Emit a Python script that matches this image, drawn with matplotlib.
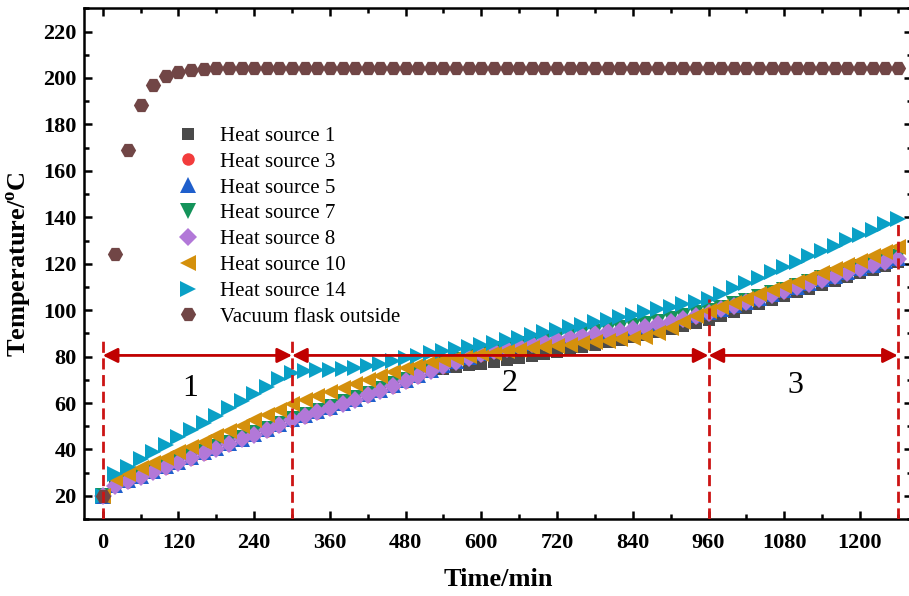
import numpy as np
import matplotlib
matplotlib.use("Agg")
from matplotlib import pyplot as plt
from matplotlib.ticker import MultipleLocator

plt.rcParams['font.family'] = 'Liberation Serif'
plt.rcParams['font.weight'] = 'bold'
plt.rcParams['mathtext.fontset'] = 'custom'
plt.rcParams['mathtext.rm'] = 'Liberation Serif'
plt.rcParams['mathtext.bf'] = 'Liberation Serif:bold'

# sampling every 20 min
time = np.arange(0, 1261, 20)

hs1 = [20.0, 24.0, 26.0, 28.0, 30.0, 32.0, 34.0, 36.0, 38.0, 40.0, 42.0, 44.0, 46.0, 48.0, 50.1, 52.3,
       54.0, 55.7, 57.5, 59.3, 61.2, 63.1, 65.0, 67.0, 69.1, 71.3, 73.3, 74.8, 75.6, 76.3, 77.0,
       77.7, 78.5, 79.3, 80.2, 81.1, 82.1, 83.1, 84.1, 85.1, 86.1, 87.2, 88.3, 89.4, 90.6, 91.9, 93.2, 94.5, 95.8,
       97.5, 99.2, 100.9, 102.6, 104.3, 106.0, 107.7, 109.3, 110.9, 112.5, 114.1, 115.8, 117.5, 119.2, 120.8]
hs3 = [20.0, 24.1, 26.1, 28.1, 30.1, 32.1, 34.1, 36.1, 38.1, 40.1, 42.1, 44.1, 46.1, 48.1, 50.2, 52.4,
       54.1, 55.8, 57.6, 59.4, 61.3, 63.2, 65.1, 67.1, 69.2, 71.4, 73.6, 75.6, 77.5, 79.3, 80.8,
       82.1, 83.2, 84.2, 85.2, 86.1, 87.0, 87.8, 88.6, 89.4, 90.2, 91.0, 91.8, 92.7, 93.7, 94.8, 96.0, 97.2, 98.5,
       100.1, 101.6, 103.2, 104.8, 106.4, 108.0, 109.6, 111.2, 112.8, 114.4, 116.0, 117.6, 119.1, 120.6, 122.0]
hs5 = [20.0, 24.7, 26.7, 28.7, 30.7, 32.7, 34.7, 36.7, 38.7, 40.7, 42.7, 44.7, 46.7, 48.7, 50.8, 53.0,
       54.7, 56.4, 58.2, 60.0, 61.9, 63.8, 65.7, 67.7, 69.8, 72.0, 74.2, 76.2, 78.1, 79.9, 81.4,
       82.7, 83.8, 84.8, 85.8, 86.7, 87.6, 88.4, 89.2, 90.0, 90.8, 91.6, 92.4, 93.3, 94.3, 95.4, 96.6, 97.8, 99.1,
       100.6, 102.1, 103.7, 105.3, 106.9, 108.5, 110.1, 111.7, 113.3, 114.9, 116.5, 118.1, 119.6, 121.1, 122.5]
hs7 = [20.0, 25.0, 27.0, 29.0, 31.0, 33.0, 35.0, 37.0, 39.0, 41.0, 43.0, 45.0, 47.0, 49.0, 51.1, 53.3,
       55.0, 56.7, 58.5, 60.3, 62.2, 64.1, 66.0, 68.0, 70.1, 72.3, 74.6, 76.7, 78.6, 80.4, 81.9,
       83.2, 84.3, 85.4, 86.4, 87.4, 88.3, 89.2, 90.0, 90.8, 91.6, 92.4, 93.2, 94.1, 95.1, 96.2, 97.4, 98.6, 99.8,
       101.0, 102.5, 104.1, 105.7, 107.3, 108.9, 110.5, 112.1, 113.7, 115.3, 116.9, 118.5, 120.0, 121.5, 122.9]
hs8 = [20.0, 24.3, 26.3, 28.3, 30.3, 32.3, 34.3, 36.3, 38.3, 40.3, 42.3, 44.3, 46.3, 48.3, 50.4, 52.6,
       54.3, 56.0, 57.8, 59.6, 61.5, 63.4, 65.3, 67.3, 69.4, 71.6, 73.8, 75.8, 77.7, 79.5, 81.0,
       82.3, 83.4, 84.4, 85.4, 86.3, 87.2, 88.0, 88.8, 89.6, 90.4, 91.2, 92.0, 92.9, 93.9, 95.0, 96.2, 97.4, 98.7,
       100.3, 101.8, 103.4, 105.0, 106.6, 108.2, 109.8, 111.4, 113.0, 114.6, 116.2, 117.8, 119.3, 120.8, 122.2]
hs10 = [20.0, 27.2, 29.6, 31.9, 34.2, 36.5, 38.8, 41.1, 43.4, 45.7, 48.0, 50.3, 52.6, 54.9, 57.2, 59.4,
        61.2, 63.0, 64.8, 66.6, 68.4, 70.1, 71.8, 73.4, 75.0, 76.4, 77.6, 78.6, 79.5, 80.3, 81.0,
        81.7, 82.3, 82.9, 83.5, 84.0, 84.6, 85.1, 85.7, 86.3, 86.9, 87.5, 88.0, 88.6, 90.0, 92.4, 95.0, 97.5, 99.8,
        101.4, 103.2, 105.0, 106.8, 108.6, 110.4, 112.2, 114.0, 115.8, 117.6, 119.4, 121.2, 123.2, 125.2, 127.3]
hs14 = [20.0, 29.5, 32.6, 35.8, 38.9, 42.0, 45.2, 48.3, 51.4, 54.6, 57.7, 60.8, 64.0, 67.1, 70.2, 73.0,
        74.0, 74.2, 74.4, 74.7, 75.3, 75.9, 76.9, 78.2, 79.5, 80.4, 81.4, 82.3, 83.2, 84.0, 84.9,
        86.0, 87.1, 88.2, 89.3, 90.4, 91.5, 92.6, 93.7, 94.8, 95.9, 97.0, 98.1, 99.2, 100.3, 101.4, 102.5, 103.6, 104.8,
        107.1, 109.4, 111.7, 114.0, 116.3, 118.6, 120.9, 123.2, 125.5, 127.8, 130.1, 132.4, 134.7, 137.0, 139.2]
flask = [20.0, 124.3, 168.8, 188.4, 197.1, 200.9, 202.7, 203.5, 203.9, 204.1, 204.2, 204.2, 204.3, 204.3, 204.3, 204.3,
         204.3, 204.3, 204.3, 204.3, 204.3, 204.3, 204.3, 204.3, 204.3, 204.3, 204.3, 204.3, 204.3, 204.3, 204.3,
         204.3, 204.3, 204.3, 204.3, 204.3, 204.3, 204.3, 204.3, 204.3, 204.3, 204.3, 204.3, 204.3, 204.3, 204.3,
         204.3, 204.3, 204.3, 204.3, 204.3, 204.3, 204.3, 204.3, 204.3, 204.3, 204.3, 204.3, 204.3, 204.3, 204.3,
         204.3, 204.3, 204.3]

labels = ['Heat source 1', 'Heat source 3', 'Heat source 5', 'Heat source 7',
          'Heat source 8', 'Heat source 10', 'Heat source 14', 'Vacuum flask outside']
markers = ['s', 'o', '^', 'v', 'D', '<', '>', 'H']
colors = ['#4a4a4a', '#f23c3c', '#1f5fcc', '#14935a', '#b278d8', '#d4900c', '#0aa0c6', '#714646']
sizes = [8.5, 9, 11, 11, 9, 11.5, 11.5, 11]

# stage boundaries (min), top of each dashed marker line, arrow height
stage_x = [0, 300, 960, 1260]
stage_top = [89, 89, 104.8, 139.2]
arrow_y = 80.5
stage_names = ['1', '2', '3']
stage_text_x = [138, 645, 1097]
stage_text_y = [66.2, 68.4, 67.5]
red = '#cc1414'

fig = plt.figure(figsize=(9.09, 5.96), dpi=100)
ax = fig.add_axes([0.0922, 0.129, 0.9111, 0.857])

data = [hs1, hs3, hs5, hs7, hs8, hs10, hs14, flask]
for vals, m, c, s, lab in zip(data, markers, colors, sizes, labels):
    ax.plot(time, vals, linestyle='none', marker=m, color=c, ms=s, mew=0, label=lab)

for x, top in zip(stage_x, stage_top):
    ax.plot([x, x], [10, top], color=red, lw=2, linestyle=(0, (4, 2)), zorder=5)
for i in range(3):
    ax.annotate('', xy=(stage_x[i + 1], arrow_y), xytext=(stage_x[i], arrow_y),
                arrowprops=dict(arrowstyle='<|-|>', color='#c00000', lw=2,
                                mutation_scale=22, shrinkA=0, shrinkB=0), zorder=6)
    ax.text(stage_text_x[i], stage_text_y[i], stage_names[i], fontsize=23,
            fontweight='normal', ha='center', va='center')

ax.set_xlim(-30, 1282.5)
ax.set_ylim(10, 230)
ax.xaxis.set_major_locator(MultipleLocator(120))
ax.xaxis.set_minor_locator(MultipleLocator(60))
ax.yaxis.set_minor_locator(MultipleLocator(10))
ax.set_yticks(np.arange(20, 221, 20))
ax.tick_params(which='both', direction='in', top=True, right=True, width=1.8, labelsize=16)
ax.tick_params(which='major', length=6)
ax.tick_params(which='minor', length=3.5)
ax.tick_params(axis='x', which='major', pad=10)
ax.tick_params(axis='y', which='major', pad=5)
for sp in ax.spines.values():
    sp.set_linewidth(1.8)
# right edge of the frame runs off the canvas, only its ticks show
ax.spines['right'].set_visible(False)

ax.set_xlabel('Time/min', fontsize=19, fontweight='bold', labelpad=11)
ax.set_ylabel(r'Temperature/$^{\mathbf{o}}$C', fontsize=19, fontweight='bold', labelpad=7)

ax.legend(loc='upper left', bbox_to_anchor=(0.1127, 0.769), frameon=False, borderpad=0,
          borderaxespad=0, handlelength=1.0, handletextpad=1.04, labelspacing=0.3,
          prop={'family': 'Liberation Serif', 'size': 15, 'weight': 'normal'})

fig.savefig('out.png', dpi=100)
